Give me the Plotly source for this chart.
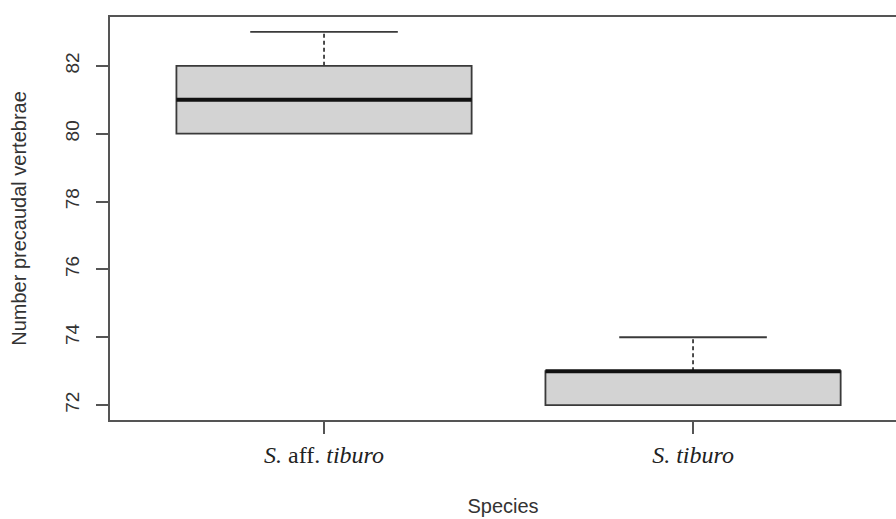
import plotly.graph_objects as go

species = ["<i>S.</i> aff. <i>tiburo</i>", "<i>S. tiburo</i>"]
positions = [1, 2]
lower_whisker = [80, 72]
q1 = [80, 72]
median = [81, 73]
q3 = [82, 73]
upper_whisker = [83, 74]
y_ticks = [72, 74, 76, 78, 80, 82]

BOXW = 0.8
CAPW = 0.4
LINE = "#3a3a3a"

fig = go.Figure()
for i, p in enumerate(positions):
    fig.add_trace(go.Box(
        x=[p], q1=[q1[i]], median=[median[i]], q3=[q3[i]],
        lowerfence=[q1[i]], upperfence=[q3[i]],
        width=BOXW, whiskerwidth=0, fillcolor="#d3d3d3",
        line=dict(color=LINE, width=1.8), showlegend=False, hoverinfo="skip",
        boxpoints=False,
    ))
    fig.add_trace(go.Scatter(x=[p, p], y=[q3[i], upper_whisker[i]], mode="lines",
                             line=dict(color=LINE, width=1.8, dash="4px,3px"), showlegend=False))
    fig.add_trace(go.Scatter(x=[p, p], y=[q1[i], lower_whisker[i]], mode="lines",
                             line=dict(color=LINE, width=1.8, dash="4px,3px"), showlegend=False))
    fig.add_trace(go.Scatter(x=[p - CAPW / 2, p + CAPW / 2], y=[upper_whisker[i]] * 2, mode="lines",
                             line=dict(color=LINE, width=1.8), showlegend=False))
    fig.add_trace(go.Scatter(x=[p - BOXW / 2, p + BOXW / 2], y=[median[i]] * 2, mode="lines",
                             line=dict(color="#111111", width=4), showlegend=False))

fig.update_layout(
    width=896, height=519,
    margin=dict(l=110, r=0, t=17, b=99, autoexpand=False),
    paper_bgcolor="white", plot_bgcolor="white",
    font=dict(family="Liberation Sans, Arial, sans-serif", size=20, color="#333333"),
    xaxis=dict(
        range=[0.42, 2.55], tickvals=positions, ticktext=species,
        tickfont=dict(family="Liberation Serif, Times New Roman, serif", size=24, color="#222222"),
        ticks="outside", ticklen=12, tickcolor="#555555", tickwidth=1.8,
        showline=True, linecolor="#555555", linewidth=1.8, mirror=True,
        showgrid=False, zeroline=False, ticklabelstandoff=0,
        title=dict(text="Species", font=dict(size=20), standoff=32),
    ),
    yaxis=dict(
        range=[71.56, 83.44], tickvals=y_ticks, ticktext=[str(v) for v in y_ticks],
        tickangle=-90, tickfont=dict(size=19),
        ticks="outside", ticklen=12, tickcolor="#555555", tickwidth=1.8,
        showline=True, linecolor="#555555", linewidth=1.8,
        showgrid=False, zeroline=False, ticklabelstandoff=10,
        title=dict(text="Number precaudal vertebrae", font=dict(size=20), standoff=30),
    ),
)

fig.write_html("out.html", config={"displayModeBar": False},
               post_script="document.body.style.margin='0';document.body.style.overflow='hidden';")
